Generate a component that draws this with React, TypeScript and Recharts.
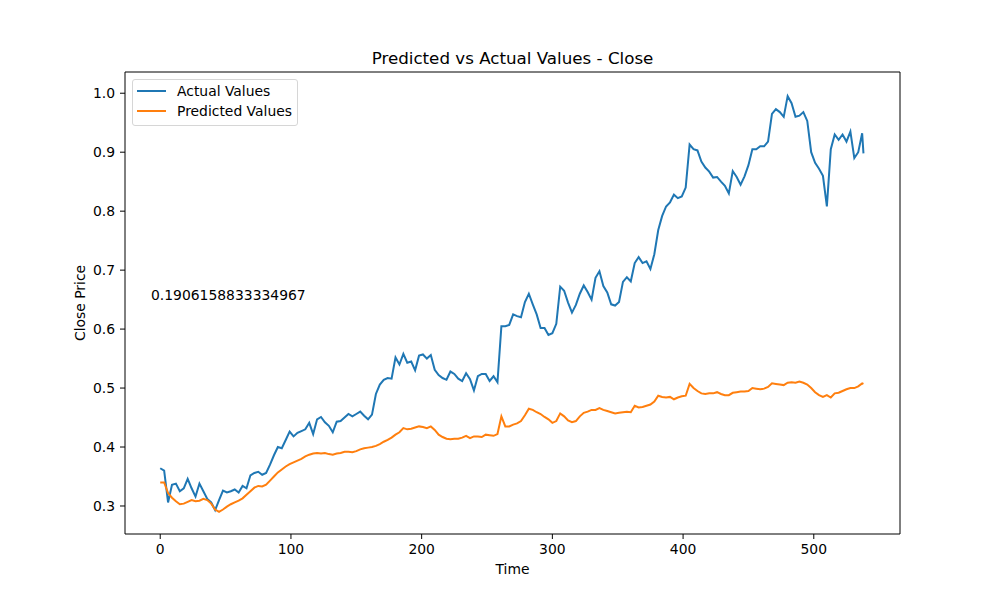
import React from 'react';
import { LineChart, Line, XAxis, YAxis, ReferenceLine } from 'recharts';

// time steps are sampled every 3 points, last point is the final index
const STEP = 3;
const LAST_T = 538;

const actualValues = [
  0.364, 0.360, 0.306, 0.336, 0.338, 0.325, 0.330, 0.346, 0.330, 0.316,
  0.338, 0.325, 0.312, 0.306, 0.293, 0.310, 0.326, 0.323, 0.325, 0.328,
  0.323, 0.334, 0.330, 0.352, 0.356, 0.358, 0.353, 0.356, 0.370, 0.386,
  0.400, 0.398, 0.412, 0.426, 0.418, 0.424, 0.427, 0.430, 0.441, 0.422,
  0.447, 0.451, 0.442, 0.436, 0.425, 0.443, 0.444, 0.450, 0.456, 0.452,
  0.456, 0.460, 0.453, 0.447, 0.455, 0.490, 0.506, 0.514, 0.517, 0.516,
  0.552, 0.540, 0.558, 0.543, 0.545, 0.530, 0.555, 0.557, 0.550, 0.556,
  0.531, 0.522, 0.517, 0.514, 0.528, 0.524, 0.516, 0.512, 0.525, 0.515,
  0.496, 0.520, 0.524, 0.524, 0.512, 0.520, 0.510, 0.605, 0.605, 0.607,
  0.625, 0.622, 0.620, 0.646, 0.660, 0.642, 0.625, 0.602, 0.602, 0.590,
  0.593, 0.609, 0.672, 0.665, 0.645, 0.628, 0.641, 0.660, 0.674, 0.663,
  0.650, 0.687, 0.698, 0.673, 0.662, 0.642, 0.640, 0.646, 0.680, 0.688,
  0.681, 0.712, 0.722, 0.712, 0.715, 0.702, 0.727, 0.768, 0.792, 0.808,
  0.815, 0.828, 0.822, 0.825, 0.840, 0.913, 0.905, 0.903, 0.884, 0.874,
  0.867, 0.857, 0.858, 0.850, 0.843, 0.830, 0.868, 0.858, 0.845, 0.859,
  0.878, 0.905, 0.905, 0.910, 0.910, 0.918, 0.965, 0.973, 0.968, 0.960,
  0.995, 0.983, 0.960, 0.962, 0.968, 0.953, 0.900, 0.882, 0.872, 0.860,
  0.808, 0.905, 0.930, 0.921, 0.930, 0.918, 0.935, 0.890, 0.900, 0.932,
  0.898,
];

const predictedValues = [
  0.340, 0.340, 0.322, 0.314, 0.308, 0.303, 0.304, 0.307, 0.310, 0.308,
  0.309, 0.312, 0.310, 0.304, 0.294, 0.290, 0.294, 0.299, 0.303, 0.306,
  0.309, 0.313, 0.319, 0.325, 0.331, 0.334, 0.333, 0.336, 0.343, 0.350,
  0.357, 0.362, 0.367, 0.371, 0.374, 0.377, 0.380, 0.384, 0.387, 0.389,
  0.390, 0.389, 0.390, 0.388, 0.387, 0.389, 0.390, 0.392, 0.392, 0.391,
  0.393, 0.396, 0.398, 0.399, 0.400, 0.402, 0.405, 0.409, 0.412, 0.416,
  0.421, 0.425, 0.432, 0.430, 0.431, 0.433, 0.435, 0.434, 0.432, 0.435,
  0.429, 0.421, 0.417, 0.414, 0.413, 0.414, 0.414, 0.416, 0.419, 0.415,
  0.418, 0.418, 0.417, 0.421, 0.420, 0.419, 0.422, 0.452, 0.435, 0.435,
  0.438, 0.440, 0.444, 0.454, 0.465, 0.463, 0.459, 0.456, 0.451, 0.447,
  0.441, 0.444, 0.457, 0.452, 0.445, 0.442, 0.444, 0.452, 0.458, 0.460,
  0.463, 0.463, 0.466, 0.463, 0.461, 0.459, 0.457, 0.458, 0.459, 0.460,
  0.459, 0.470, 0.467, 0.468, 0.470, 0.472, 0.477, 0.487, 0.485, 0.484,
  0.485, 0.481, 0.484, 0.486, 0.487, 0.507, 0.500, 0.495, 0.491, 0.490,
  0.491, 0.491, 0.493, 0.490, 0.488, 0.488, 0.492, 0.493, 0.494, 0.494,
  0.495, 0.500, 0.499, 0.498, 0.499, 0.502, 0.508, 0.507, 0.506, 0.505,
  0.509, 0.510, 0.509, 0.511, 0.509, 0.506, 0.500, 0.493, 0.488, 0.485,
  0.488, 0.484, 0.491, 0.492, 0.495, 0.498, 0.500, 0.500, 0.503, 0.508,
  0.507,
];

const xTicks = [0, 100, 200, 300, 400, 500];
const yTicks = [0.3, 0.4, 0.5, 0.6, 0.7, 0.8, 0.9, 1.0];

const titleText = 'Predicted vs Actual Values - Close';
const noteText = '0.1906158833334967';

const data = actualValues.map((v, i) => ({
  t: Math.min(i * STEP, LAST_T),
  actual: v,
  predicted: predictedValues[i],
}));

const FONT = '"DejaVu Sans", sans-serif';
const BLUE = '#1f77b4';
const ORANGE = '#ff7f0e';
const X_DOMAIN: [number, number] = [-26.95, 565.95];
const Y_DOMAIN: [number, number] = [0.2525, 1.036];

const tickStyle = { fill: '#000', fontSize: 13.9, fontFamily: FONT };

const App: React.FC = () => (
  <div style={{ position: 'absolute', left: 0, top: 0, width: 1000, height: 600, background: '#fff', fontFamily: FONT }}>
    <LineChart width={1000} height={600} data={data} margin={{ top: 72, right: 100, bottom: 16, left: 65 }}>
      <XAxis
        dataKey="t"
        type="number"
        domain={X_DOMAIN}
        allowDataOverflow
        ticks={xTicks}
        height={50}
        tick={tickStyle}
        tickSize={5}
        tickMargin={5}
        axisLine={{ stroke: '#000' }}
        tickLine={{ stroke: '#000' }}
      />
      <YAxis
        type="number"
        domain={Y_DOMAIN}
        allowDataOverflow
        ticks={yTicks}
        width={60}
        tick={tickStyle}
        tickSize={5}
        tickMargin={5}
        tickFormatter={(v: number) => v.toFixed(1)}
        axisLine={{ stroke: '#000' }}
        tickLine={{ stroke: '#000' }}
      />
      {/* top and right spines */}
      <ReferenceLine y={Y_DOMAIN[1]} stroke="#000" strokeWidth={1} ifOverflow="extendDomain" />
      <ReferenceLine x={X_DOMAIN[1]} stroke="#000" strokeWidth={1} ifOverflow="extendDomain" />
      <Line type="linear" dataKey="actual" stroke={BLUE} strokeWidth={2} dot={false} isAnimationActive={false} />
      <Line type="linear" dataKey="predicted" stroke={ORANGE} strokeWidth={2} dot={false} isAnimationActive={false} />
    </LineChart>

    <div style={{ position: 'absolute', left: 125, width: 775, top: 48, lineHeight: '20px', textAlign: 'center', fontSize: 16.7 }}>
      {titleText}
    </div>
    <div style={{ position: 'absolute', left: 125, width: 775, top: 560, lineHeight: '18px', textAlign: 'center', fontSize: 13.9 }}>
      Time
    </div>
    <div style={{ position: 'absolute', left: 80, top: 303, lineHeight: '18px', fontSize: 13.9, whiteSpace: 'nowrap', transform: 'translate(-50%, -50%) rotate(-90deg)' }}>
      Close Price
    </div>
    <div style={{ position: 'absolute', left: 151, top: 286, lineHeight: '18px', fontSize: 13.9, whiteSpace: 'nowrap' }}>
      {noteText}
    </div>

    <div style={{ position: 'absolute', left: 132, top: 79, width: 164, height: 45, border: '1px solid #d6d6d6', borderRadius: 3, background: 'rgba(255,255,255,0.8)', fontSize: 13.9 }}>
      {[
        { name: 'Actual Values', color: BLUE, y: 11 },
        { name: 'Predicted Values', color: ORANGE, y: 31 },
      ].map((item) => (
        <div key={item.name} style={{ position: 'absolute', left: 4, top: item.y - 9, height: 18, display: 'flex', alignItems: 'center', whiteSpace: 'nowrap' }}>
          <span style={{ display: 'inline-block', width: 29, height: 2, background: item.color, marginRight: 11 }} />
          <span>{item.name}</span>
        </div>
      ))}
    </div>
  </div>
);

export default App;
